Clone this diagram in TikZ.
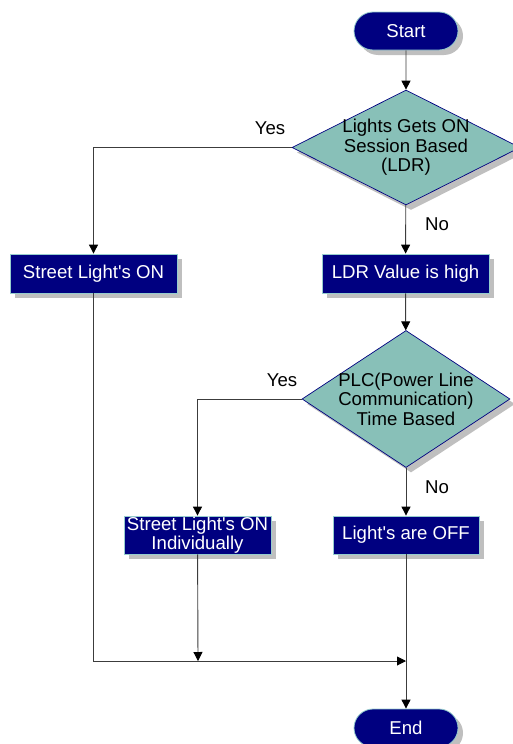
\documentclass[tikz,border=0pt]{standalone}
\usepackage{fontspec}
\setmainfont{Liberation Sans}
\usetikzlibrary{shapes.geometric,shapes.misc,arrows.meta,shadows}
\definecolor{boxblue}{RGB}{0,0,128}
\definecolor{boxedge}{RGB}{150,205,205}
\definecolor{decfill}{RGB}{136,192,184}
\definecolor{flowline}{RGB}{60,60,60}
\newcommand{\apos}{\textquotesingle}
\tikzset{
  flowshadow/.style={drop shadow={fill=black!25,opacity=1,shadow xshift=5pt,shadow yshift=-5pt}},
  procbox/.style={rectangle,draw=boxedge,line width=0.8pt,fill=boxblue,text=white,align=center,inner sep=0pt,flowshadow},
  termbox/.style={rounded rectangle,draw=boxedge,line width=0.8pt,fill=boxblue,text=white,inner sep=0pt,minimum width=104pt,minimum height=38pt,flowshadow},
  decbox/.style={diamond,draw=boxblue,line width=0.7pt,fill=decfill,inner sep=0pt,flowshadow},
  flow/.style={draw=flowline,line width=0.9pt,-{Triangle[length=9pt,width=9pt,color=black]}},
  flowplain/.style={draw=flowline,line width=0.9pt}
}
\begin{document}
\begin{tikzpicture}[x=1pt,y=-1pt,font=\fontsize{18.6}{19.5}\selectfont]
        \useasboundingbox (0,0) rectangle (512,744);
        \def \Boxes{ light/93.5/273.5/167/39/{Street Light\apos s ON}, ldr/405.5/273.5/167/39/{LDR Value is high}, indiv/197.5/535/147/38/{Street Light\apos s ON\\Individually}, off/406/535/146/38/{Light\apos s are OFF}}
        \node[termbox] (start) at (406,31) {Start};
        \node[termbox] (end) at (406,728) {End};
        \foreach \id / \x / \y / \w / \h / \t in \Boxes{
            \node[procbox,minimum width=\w pt,minimum height=\h pt] (\id) at (\x, \y) {\t};
        }
        \node[decbox,minimum width=228pt,minimum height=115pt,label={[align=center]center:Lights Gets ON\\Session Based\\(LDR)}] (sess) at (406,147.5) {};
        \node[decbox,minimum width=208pt,minimum height=137pt,label={[align=center]center:PLC(Power Line\\Communication)\\Time Based}] (plc) at (406,399) {};
        \node (yes1) at (270,128) {Yes};
        \node (no1) at (437,224) {No};
        \node (yes2) at (282,380) {Yes};
        \node (no2) at (437,487) {No};
        \coordinate (joinA) at (198,661);
        \coordinate (joinB) at (406,661);
        \path[flow] (start) -- (sess);
        \path[flow] (sess.west) -| (light);
        \path[flow] (sess) -- (ldr);
        \path[flow] (ldr) -- (plc);
        \path[flow] (plc.west) -| (indiv);
        \path[flow] (plc) -- (off);
        \path[flow] (indiv) -- (joinA);
        \path[flow] (light.south) |- (joinB);
        \path[flowplain] (off) -- (joinB);
        \path[flow] (joinB) -- (end);
    \end{tikzpicture}
\end{document}
